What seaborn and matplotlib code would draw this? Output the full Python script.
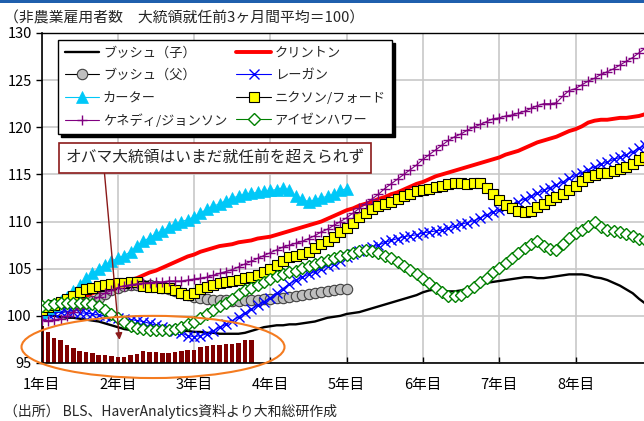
import numpy as np
import pandas as pd
import matplotlib
matplotlib.use("Agg")
import matplotlib.pyplot as plt
import seaborn as sns
from matplotlib.patches import Ellipse, Rectangle

# ---------------- data (index = months since inauguration) ----------------
bush_jr = [100.2, 100.1, 100.0, 99.9, 99.8, 99.8, 99.7, 99.6, 99.5, 99.4, 99.2, 99.0, 98.8, 98.6, 98.5, 98.4,
           98.4, 98.3, 98.3, 98.3, 98.3, 98.3, 98.4, 98.4, 98.3, 98.3, 98.2, 98.2, 98.1, 98.1, 98.1, 98.1,
           98.2, 98.4, 98.6, 98.8, 98.9, 99.0, 99.0, 99.1, 99.1, 99.2, 99.3, 99.4, 99.6, 99.8, 99.9, 100.0,
           100.2, 100.3, 100.4, 100.6, 100.8, 101.0, 101.2, 101.4, 101.6, 101.8, 102.0, 102.2, 102.5, 102.7,
           102.8, 102.7, 102.6, 102.6, 102.7, 102.9, 103.1, 103.3, 103.5, 103.6, 103.7, 103.8, 103.9, 104.0,
           104.1, 104.1, 104.0, 104.0, 104.1, 104.2, 104.3, 104.4, 104.4, 104.4, 104.3, 104.1, 104.0, 103.8,
           103.5, 103.2, 102.8, 102.4, 101.8, 101.3]
clinton = [100.0, 100.3, 100.7, 101.0, 101.3, 101.6, 101.8, 102.1, 102.4, 102.6, 102.8, 103.0, 103.3, 103.5,
           103.8, 104.0, 104.3, 104.6, 104.8, 105.1, 105.4, 105.7, 106.0, 106.3, 106.5, 106.8, 107.0, 107.2,
           107.4, 107.5, 107.6, 107.8, 107.9, 108.0, 108.2, 108.3, 108.4, 108.6, 108.8, 109.0, 109.2, 109.4,
           109.6, 109.8, 110.0, 110.3, 110.6, 110.9, 111.2, 111.4, 111.7, 111.9, 112.1, 112.4, 112.6, 112.9,
           113.1, 113.4, 113.7, 114.0, 114.2, 114.5, 114.8, 115.0, 115.2, 115.4, 115.6, 115.8, 116.0, 116.2,
           116.4, 116.6, 116.8, 117.1, 117.3, 117.5, 117.8, 118.1, 118.4, 118.6, 118.8, 119.0, 119.3, 119.6,
           119.8, 120.1, 120.5, 120.7, 120.8, 120.8, 120.9, 121.0, 121.0, 121.1, 121.2, 121.4]
bush_sr = [100.6, 100.7, 100.8, 100.9, 101.0, 101.1, 101.2, 101.4, 101.6, 101.9, 102.3, 102.7, 103.0, 103.2,
           103.3, 103.3, 103.3, 103.3, 103.2, 103.0, 102.8, 102.6, 102.4, 102.2, 102.0, 101.9, 101.8, 101.7,
           101.7, 101.7, 101.6, 101.6, 101.7, 101.7, 101.7, 101.8, 101.8, 101.9, 101.9, 102.0, 102.1, 102.2,
           102.3, 102.4, 102.5, 102.6, 102.7, 102.8, 102.8]
reagan = [100.0, 100.2, 100.3, 100.4, 100.4, 100.4, 100.3, 100.3, 100.2, 100.1, 100.0, 99.9, 99.8, 99.7,
          99.6, 99.5, 99.4, 99.2, 99.0, 98.8, 98.6, 98.4, 98.2, 97.9, 97.8, 97.9, 98.1, 98.4, 98.8, 99.1,
          99.5, 99.9, 100.3, 100.7, 101.1, 101.5, 101.9, 102.4, 102.9, 103.4, 103.8, 104.1, 104.4, 104.7,
          105.0, 105.3, 105.5, 105.8, 106.2, 106.6, 106.9, 107.1, 107.3, 107.5, 107.8, 108.0, 108.2, 108.4,
          108.5, 108.6, 108.8, 108.9, 109.0, 109.1, 109.3, 109.5, 109.7, 109.9, 110.1, 110.4, 110.7, 111.0,
          111.2, 111.5, 111.8, 112.1, 112.4, 112.7, 113.0, 113.3, 113.6, 113.9, 114.2, 114.6, 114.9, 115.2,
          115.5, 115.8, 116.1, 116.3, 116.6, 116.8, 117.1, 117.4, 117.8, 118.1]
carter = [100.4, 100.8, 101.2, 101.6, 102.0, 102.6, 103.3, 104.0, 104.5, 105.0, 105.4, 105.8, 106.1, 106.4,
          106.8, 107.4, 107.9, 108.3, 108.7, 109.0, 109.4, 109.7, 110.0, 110.2, 110.5, 110.9, 111.3, 111.6,
          111.9, 112.2, 112.5, 112.7, 112.9, 113.0, 113.1, 113.2, 113.3, 113.4, 113.6, 113.3, 112.7, 112.4,
          112.1, 112.3, 112.5, 112.7, 112.9, 113.3, 113.5]
nixon_ford = [100.6, 100.9, 101.2, 101.5, 101.8, 102.1, 102.5, 102.8, 103.0, 103.2, 103.3, 103.4, 103.5,
              103.5, 103.6, 103.6, 103.2, 103.1, 103.1, 103.0, 103.0, 102.7, 102.4, 102.2, 102.4, 102.8,
              103.1, 103.3, 103.5, 103.6, 103.7, 103.8, 104.0, 104.1, 104.3, 104.6, 105.0, 105.4, 105.8,
              106.2, 106.4, 106.6, 106.8, 107.2, 107.6, 107.9, 108.4, 108.9, 109.3, 109.9, 110.5, 110.9,
              111.3, 111.6, 111.9, 112.1, 112.4, 112.7, 112.9, 113.2, 113.4, 113.5, 113.7, 113.8, 114.0,
              114.1, 114.1, 114.0, 114.1, 114.1, 113.6, 112.9, 112.3, 111.8, 111.4, 111.1, 111.0, 111.1,
              111.5, 111.9, 112.3, 112.6, 112.9, 113.3, 113.8, 114.3, 114.7, 114.9, 115.1, 115.2, 115.4,
              115.6, 115.8, 116.1, 116.5, 116.8]
kennedy_johnson = [99.6, 99.5, 99.6, 99.7, 100.0, 100.4, 100.8, 101.2, 101.6, 102.0, 102.4, 102.7, 103.0,
                   103.2, 103.3, 103.4, 103.5, 103.5, 103.6, 103.6, 103.7, 103.7, 103.7, 103.8, 103.9,
                   104.0, 104.1, 104.3, 104.5, 104.7, 104.9, 105.2, 105.5, 105.8, 106.1, 106.4, 106.7,
                   107.0, 107.3, 107.5, 107.7, 107.9, 108.2, 108.5, 108.9, 109.2, 109.6, 110.0, 110.4,
                   110.9, 111.4, 111.9, 112.4, 112.9, 113.5, 114.0, 114.5, 115.0, 115.5, 116.0, 116.6,
                   117.1, 117.6, 118.1, 118.6, 119.0, 119.3, 119.7, 120.0, 120.3, 120.6, 120.9, 121.0,
                   121.2, 121.3, 121.5, 121.7, 122.0, 122.3, 122.5, 122.5, 122.6, 123.3, 123.9, 124.1,
                   124.5, 124.9, 125.2, 125.6, 125.9, 126.2, 126.6, 127.0, 127.4, 127.9, 128.4]
eisenhower = [101.0, 101.2, 101.3, 101.4, 101.4, 101.4, 101.4, 101.4, 101.3, 101.0, 100.6, 100.2, 99.8,
              99.3, 98.9, 98.7, 98.6, 98.5, 98.5, 98.5, 98.5, 98.6, 98.8, 99.1, 99.4, 99.8, 100.2, 100.6,
              101.0, 101.4, 101.8, 102.3, 102.7, 103.0, 103.3, 103.6, 103.9, 104.2, 104.4, 104.6, 104.8,
              105.1, 105.3, 105.5, 105.7, 105.9, 106.1, 106.3, 106.5, 106.7, 106.9, 107.0, 106.9, 106.7,
              106.4, 106.1, 105.7, 105.3, 104.9, 104.4, 103.9, 103.5, 103.0, 102.5, 102.1, 102.1, 102.2,
              102.6, 103.1, 103.6, 104.0, 104.6, 105.1, 105.6, 106.1, 106.7, 107.2, 107.6, 107.9, 107.4,
              107.1, 107.0, 107.6, 108.3, 108.8, 109.1, 109.5, 110.0, 109.4, 109.1, 109.0, 108.9, 108.7,
              108.5, 108.2, 108.0]
obama = [98.9, 98.3, 97.7, 97.4, 96.9, 96.6, 96.3, 96.2, 96.1, 95.9, 95.9, 95.7, 95.65, 95.65, 95.9, 96.0,
         96.3, 96.2, 96.2, 96.1, 96.1, 96.2, 96.3, 96.4, 96.4, 96.7, 96.85, 96.95, 96.95, 97.05, 97.05,
         97.1, 97.4, 97.4]

year_ticks = [0, 12, 24, 36, 48, 60, 72, 84]
year_labels = ["1年目", "2年目", "3年目", "4年目", "5年目", "6年目", "7年目", "8年目"]
y_ticks = [95, 100, 105, 110, 115, 120, 125, 130]

title_text = "（非農業雇用者数　大統領就任前3ヶ月間平均＝100）"
source_text = "（出所） BLS、HaverAnalytics資料より大和総研作成"
note_text = "オバマ大統領はいまだ就任前を超えられず"

# ---------------- style ----------------
sns.set_style("white")
plt.rcParams["font.family"] = ["Noto Sans CJK JP", "DejaVu Sans"]

W, H = 644, 421
fig = plt.figure(figsize=(W / 100, H / 100), dpi=100)
ax_left, ax_right, ax_top, ax_bottom = 41.5, 644, 33, 363
ax = fig.add_axes([ax_left / W, 1 - ax_bottom / H, (ax_right - ax_left) / W, (ax_bottom - ax_top) / H])

# Obama bars
sns.barplot(x=np.arange(len(obama)), y=obama, native_scale=True, color="#800000", saturation=1,
            width=0.7, linewidth=0, ax=ax, zorder=2)

def series(vals, label, **kw):
    m = np.arange(len(vals))
    sns.lineplot(x=m, y=vals, ax=ax, label=label, legend=False, **kw)

series(bush_jr, "ブッシュ（子）", color="black", linewidth=1.7, zorder=3)
series(clinton, "クリントン", color="#FF0000", linewidth=2.8, zorder=3)
series(bush_sr, "ブッシュ（父）", color="black", linewidth=0.8, marker="o", markersize=7.5,
       markerfacecolor="#BFBFBF", markeredgecolor="#404040", mew=0.8, zorder=4)
series(reagan, "レーガン", color="#0000FF", linewidth=0.8, marker="x", markersize=6.5,
       markeredgecolor="#0000FF", mew=1.0, zorder=4)
series(carter, "カーター", color="#00C8F8", linewidth=0.8, marker="^", markersize=8,
       markerfacecolor="#00C8F8", markeredgecolor="#00C8F8", mew=0.5, zorder=4)
series(nixon_ford, "ニクソン/フォード", color="black", linewidth=0.8, marker="s", markersize=7,
       markerfacecolor="#FFFF00", markeredgecolor="black", mew=0.8, zorder=5)
series(kennedy_johnson, "ケネディ/ジョンソン", color="#800080", linewidth=0.8, marker="+", markersize=7.5,
       markeredgecolor="#800080", mew=1.0, zorder=5)
series(eisenhower, "アイゼンハワー", color="#008000", linewidth=0.8, marker="D", markersize=5.8,
       markerfacecolor="white", markeredgecolor="#008000", mew=1.0, zorder=5)

# axes
px_per_month = (576 - 42) / 84
ax.set_xlim(0, (ax_right - ax_left) / px_per_month)
ax.set_ylim(95, 130)
ax.set_xticks(year_ticks)
ax.set_xticklabels(year_labels, fontsize=10.5)
ax.set_yticks(y_ticks)
ax.set_yticklabels([str(v) for v in y_ticks], fontsize=10.5)
ax.set_xlabel("")
ax.set_ylabel("")
ax.grid(True, color="#C8C8C8", linewidth=1.2, zorder=0)
ax.set_axisbelow(True)
for s in ["left", "bottom", "top"]:
    ax.spines[s].set_visible(True)
    ax.spines[s].set_color("black")
ax.spines["left"].set_linewidth(1.2)
ax.spines["bottom"].set_linewidth(1.2)
ax.spines["top"].set_linewidth(1.0)
ax.spines["right"].set_visible(False)
ax.tick_params(axis="y", direction="out", length=4, width=1, pad=3, left=True, colors="black")
ax.tick_params(axis="x", direction="in", length=4, width=1, pad=11, bottom=True, colors="black")

# legend
handles = ax.get_lines()
by_label = {h.get_label(): h for h in handles}
order = ["ブッシュ（子）", "ブッシュ（父）", "カーター", "ケネディ/ジョンソン",
         "クリントン", "レーガン", "ニクソン/フォード", "アイゼンハワー"]
leg = ax.legend([by_label[k] for k in order], order, ncol=2, loc="upper left",
                bbox_to_anchor=((58 - ax_left) / (ax_right - ax_left), 1 - (40 - ax_top) / (ax_bottom - ax_top)),
                fontsize=9.5, frameon=True, fancybox=False, edgecolor="black", framealpha=1,
                shadow={"color": "black", "alpha": 1}, handlelength=2.6, handletextpad=0.3,
                columnspacing=0.7, labelspacing=0.72, borderpad=0.5, borderaxespad=0)
leg.get_frame().set_linewidth(1.0)
leg.set_zorder(10)

# annotation box + arrow
ax.text((66 - 42) / px_per_month, 100 + (316 - 159) / 9.4, note_text, fontsize=11.3, va="center", ha="left",
        zorder=11, bbox=dict(boxstyle="square,pad=0.42", facecolor="white", edgecolor="#8B1A1A", linewidth=1.2))
ax.annotate("", xy=((120 - 42) / px_per_month, 100 + (316 - 340) / 9.4),
            xytext=((105 - 42) / px_per_month, 100 + (316 - 174) / 9.4),
            arrowprops=dict(arrowstyle="-|>", color="#8B1A1A", lw=1.0, mutation_scale=10,
                            shrinkA=0, shrinkB=0), zorder=6)

ell = Ellipse(((153.5 - 42) / px_per_month, 95 + (363 - 347) / 9.4), 263 / px_per_month, 62 / 9.4,
              fill=False, edgecolor="#F47B20", linewidth=1.5, clip_on=False, zorder=6)
ax.add_patch(ell)

# texts
fig.text(4 / W, 1 - 18 / H, title_text, fontsize=10.7, ha="left", va="center")
fig.text(4 / W, 1 - 411 / H, source_text, fontsize=10, ha="left", va="center")
fig.add_artist(Rectangle((0, 1 - 2.5 / H), 1, 2.5 / H, transform=fig.transFigure,
                         facecolor="#1F5FAD", edgecolor="none"))

fig.savefig("out.png", dpi=100)
